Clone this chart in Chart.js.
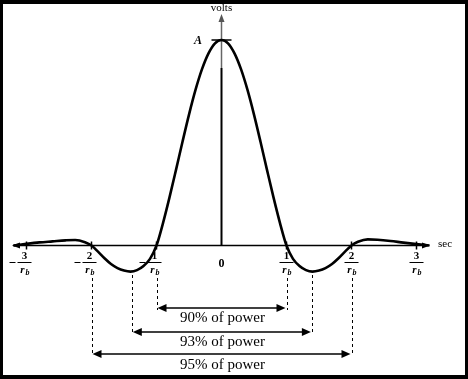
<!DOCTYPE html>
<html>
<head>
<meta charset="utf-8">
<script src="https://cdn.jsdelivr.net/npm/chart.js@4"></script>
<style>
  body { margin: 0; background: #fff; }
  #wrap { width: 468px; height: 379px; }
</style>
</head>
<body>
<div id="wrap"><canvas id="myChart" width="468" height="379"></canvas></div>
<script>
// pulse shape, time in units of 1/r_b, amplitude in units of A
const pulseX = [-3.2, -3.0, -2.8, -2.6, -2.4, -2.25, -2.1, -2.0, -1.9, -1.8, -1.7, -1.6, -1.5, -1.4, -1.3, -1.2, -1.1, -1.0,
  -0.9, -0.8, -0.7, -0.6, -0.5, -0.4, -0.3, -0.2, -0.1, 0,
  0.1, 0.2, 0.3, 0.4, 0.5, 0.6, 0.7, 0.8, 0.9, 1.0,
  1.1, 1.2, 1.3, 1.4, 1.5, 1.6, 1.7, 1.8, 1.9, 2.0, 2.1, 2.25, 2.4, 2.6, 2.8, 3.0, 3.2];
const pulseY = [0, 0.008, 0.015, 0.02, 0.025, 0.027, 0.016, 0, -0.03, -0.062, -0.09, -0.11, -0.122, -0.127, -0.12, -0.1, -0.065, 0,
  0.109, 0.234, 0.368, 0.505, 0.637, 0.757, 0.858, 0.935, 0.984, 1,
  0.984, 0.935, 0.858, 0.757, 0.637, 0.505, 0.368, 0.234, 0.109, 0,
  -0.065, -0.1, -0.12, -0.127, -0.122, -0.11, -0.09, -0.062, -0.03, 0, 0.018, 0.03, 0.028, 0.022, 0.014, 0.007, 0];

// axis ticks
const tickValues = [-3, -2, -1, 0, 1, 2, 3];
const tickNumerators = ['3', '2', '1', '0', '1', '2', '3'];

// power bands
const bandLabels = ['90% of power', '93% of power', '95% of power'];
const bandStart = [-1, -1.38, -2];
const bandEnd = [1, 1.39, 2];

function arrowHead(ctx, x, y, dx, dy, len, half) {
    ctx.beginPath();
    ctx.moveTo(x, y);
    ctx.lineTo(x - dx * len - dy * half, y - dy * len + dx * half);
    ctx.lineTo(x - dx * len + dy * half, y - dy * len - dx * half);
    ctx.closePath();
    ctx.fill();
}

const diagram = {
    id: 'diagram',
    beforeDatasetsDraw(chart) {
        const ctx = chart.ctx;
        const xs = chart.scales.x, ys = chart.scales.y;
        const x0 = xs.getPixelForValue(0), y0 = ys.getPixelForValue(0);
        const yA = ys.getPixelForValue(1);
        ctx.save();
        ctx.fillStyle = '#000';
        ctx.strokeStyle = '#000';

        // time axis
        ctx.lineWidth = 1.5;
        ctx.beginPath();
        ctx.moveTo(13, y0);
        ctx.lineTo(428, y0);
        ctx.stroke();
        arrowHead(ctx, 12, y0, -1, 0, 8, 3);
        arrowHead(ctx, 430, y0, 1, 0, 8, 3);

        // volts axis
        ctx.strokeStyle = '#666';
        ctx.beginPath();
        ctx.moveTo(x0, 68);
        ctx.lineTo(x0, 18);
        ctx.stroke();
        ctx.fillStyle = '#555';
        arrowHead(ctx, x0, 14, 0, -1, 8, 3);
        ctx.strokeStyle = '#000';
        ctx.fillStyle = '#000';
        ctx.lineWidth = 2;
        ctx.beginPath();
        ctx.moveTo(x0, y0);
        ctx.lineTo(x0, 68);
        ctx.stroke();

        // A marker
        ctx.lineWidth = 1.5;
        ctx.beginPath();
        ctx.moveTo(x0 - 10, yA);
        ctx.lineTo(x0 + 10, yA);
        ctx.stroke();

        ctx.textAlign = 'center';
        ctx.textBaseline = 'middle';
        ctx.font = '11px "Liberation Serif"';
        ctx.fillText('volts', x0, 8);
        ctx.fillText('sec', 445, y0 - 1);
        ctx.font = 'bold italic 12px "Liberation Serif"';
        ctx.fillText('A', 198, yA + 1);

        // ticks and fraction labels
        tickValues.forEach((v, i) => {
            const px = xs.getPixelForValue(v);
            if (v === 0) {
                ctx.font = 'bold 12px "Liberation Serif"';
                ctx.fillText(tickNumerators[i], px, 264);
                return;
            }
            ctx.lineWidth = 1.5;
            ctx.beginPath();
            ctx.moveTo(px, y0 - 4);
            ctx.lineTo(px, y0 + 4);
            ctx.stroke();
            const cx = v < 0 ? px - 2 : px;
            ctx.font = 'bold 11px "Liberation Serif"';
            ctx.fillText(tickNumerators[i], cx, 256);
            ctx.lineWidth = 1;
            ctx.beginPath();
            ctx.moveTo(cx - 7, 262.5);
            ctx.lineTo(cx + 7, 262.5);
            ctx.stroke();
            if (v < 0) {
                ctx.beginPath();
                ctx.moveTo(cx - 15, 262.5);
                ctx.lineTo(cx - 9, 262.5);
                ctx.stroke();
            }
            ctx.font = 'bold italic 11px "Liberation Serif"';
            ctx.fillText('r', cx - 2, 270);
            ctx.font = 'bold italic 8px "Liberation Serif"';
            ctx.fillText('b', cx + 3, 273);
        });

        // power bands
        const bandY = [308, 332, 354];
        const textY = [318, 342, 365];
        ctx.lineWidth = 1;
        ctx.setLineDash([3, 3]);
        bandLabels.forEach((lbl, i) => {
            [bandStart[i], bandEnd[i]].forEach(v => {
                const px = Math.round(xs.getPixelForValue(v)) + 0.5;
                const top = i === 1 ? 275 : 278;
                ctx.beginPath();
                ctx.moveTo(px, top);
                ctx.lineTo(px, bandY[i] + 2);
                ctx.stroke();
            });
        });
        ctx.setLineDash([]);
        bandLabels.forEach((lbl, i) => {
            const a = xs.getPixelForValue(bandStart[i]) + 1;
            const b = xs.getPixelForValue(bandEnd[i]) - 1;
            ctx.lineWidth = 1.5;
            ctx.beginPath();
            ctx.moveTo(a + 6, bandY[i]);
            ctx.lineTo(b - 6, bandY[i]);
            ctx.stroke();
            arrowHead(ctx, a, bandY[i], -1, 0, 9, 4);
            arrowHead(ctx, b, bandY[i], 1, 0, 9, 4);
            ctx.font = '15px "Liberation Serif"';
            ctx.fillText(lbl, x0 + 1, textY[i]);
        });

        // frame
        ctx.fillRect(0, 0, 468, 4);
        ctx.fillRect(0, 375, 468, 4);
        ctx.fillRect(0, 0, 3, 379);
        ctx.fillRect(465, 0, 3, 379);
        ctx.restore();
    }
};

const ctx = document.getElementById('myChart').getContext('2d');
const myChart = new Chart(ctx, {
    type: 'line',
    data: {
        datasets: [{
            data: pulseX.map((x, i) => ({ x: x, y: pulseY[i] })),
            borderColor: '#000',
            borderWidth: 2.6,
            pointRadius: 0,
            cubicInterpolationMode: 'monotone',
            fill: false
        }]
    },
    options: {
        responsive: false,
        animation: false,
        layout: { padding: 0 },
        plugins: { legend: { display: false }, tooltip: { enabled: false } },
        scales: {
            x: { type: 'linear', display: false, min: -221.5 / 65, max: (468 - 221.5) / 65 },
            y: { type: 'linear', display: false, min: -(379 - 245.5) / 205.5, max: 245.5 / 205.5 }
        }
    },
    plugins: [diagram]
});
</script>
</body>
</html>
